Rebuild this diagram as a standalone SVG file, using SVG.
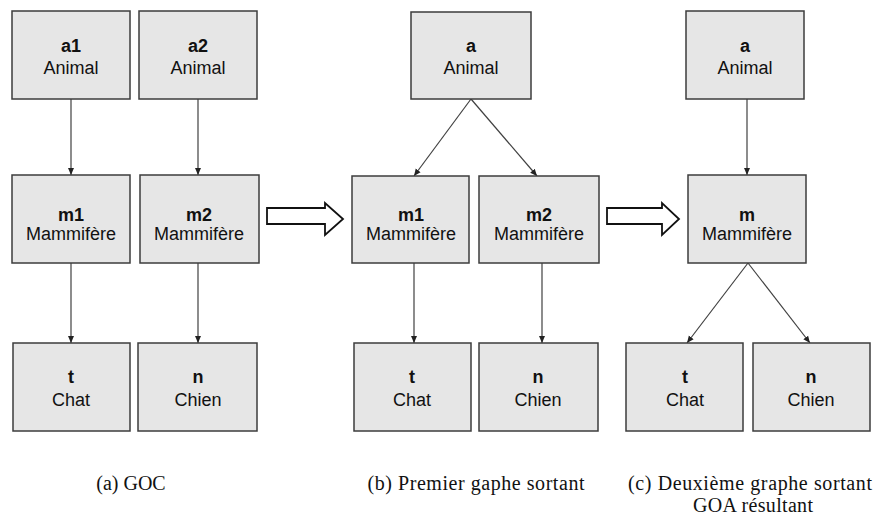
<svg xmlns="http://www.w3.org/2000/svg" width="874" height="519" viewBox="0 0 874 519">
<style>
.box{fill:#e6e6e6;stroke:#3c3c3c;stroke-width:1.5}
.id{font-family:"Liberation Sans",Arial,sans-serif;font-size:18px;font-weight:bold;fill:#111;text-anchor:middle}
.lb{font-family:"Liberation Sans",Arial,sans-serif;font-size:18px;fill:#111;text-anchor:middle}
.cn{stroke:#404040;stroke-width:1.2;fill:none;marker-end:url(#ah)}
.big{fill:#fff;stroke:#111;stroke-width:1.8;stroke-linejoin:miter}
.cap{font-family:"Liberation Serif","Times New Roman",serif;font-size:20px;fill:#111;text-anchor:middle}
</style>
<defs>
<marker id="ah" markerWidth="8" markerHeight="8" refX="7" refY="4" orient="auto" markerUnits="userSpaceOnUse">
<path d="M0,1 L7,4 L0,7 Z" fill="#222"/>
</marker>
</defs>
<rect width="874" height="519" fill="#fff"/>
<g id="connectors">
<line class="cn" x1="71" y1="99" x2="71" y2="175"/>
<line class="cn" x1="198" y1="99" x2="198" y2="175"/>
<line class="cn" x1="71" y1="263" x2="71" y2="343"/>
<line class="cn" x1="198" y1="263" x2="198" y2="343"/>
<line class="cn" x1="471" y1="99" x2="414" y2="176"/>
<line class="cn" x1="471" y1="99" x2="537" y2="176"/>
<line class="cn" x1="414" y1="263" x2="414" y2="343"/>
<line class="cn" x1="542" y1="263" x2="542" y2="343"/>
<line class="cn" x1="747" y1="99" x2="747" y2="175"/>
<line class="cn" x1="748" y1="263" x2="687" y2="343"/>
<line class="cn" x1="748" y1="263" x2="810" y2="343"/>
<path class="big" d="M267,208 L325,208 L325,203 L343,219 L325,235 L325,224 L267,224 Z"/>
<path class="big" d="M607,208 L662,208 L662,203 L679,219 L662,235 L662,224 L607,224 Z"/>
</g>
<g id="a1"><rect class="box" x="12" y="11" width="118" height="88"/><text class="id" x="71" y="52">a1</text><text class="lb" x="71" y="74">Animal</text></g>
<g id="a2"><rect class="box" x="139" y="11" width="118" height="88"/><text class="id" x="198" y="52">a2</text><text class="lb" x="198" y="74">Animal</text></g>
<g id="m1a"><rect class="box" x="12" y="175" width="118" height="88"/><text class="id" x="71" y="221">m1</text><text class="lb" x="71" y="240">Mammifère</text></g>
<g id="m2a"><rect class="box" x="140" y="175" width="119" height="88"/><text class="id" x="199" y="221">m2</text><text class="lb" x="199" y="240">Mammifère</text></g>
<g id="ta"><rect class="box" x="13" y="343" width="117" height="88"/><text class="id" x="71" y="383">t</text><text class="lb" x="71" y="406">Chat</text></g>
<g id="na"><rect class="box" x="138" y="343" width="119" height="88"/><text class="id" x="198" y="383">n</text><text class="lb" x="198" y="406">Chien</text></g>
<g id="ab"><rect class="box" x="411" y="12" width="120" height="87"/><text class="id" x="471" y="52">a</text><text class="lb" x="471" y="74">Animal</text></g>
<g id="m1b"><rect class="box" x="352" y="176" width="117" height="87"/><text class="id" x="411" y="221">m1</text><text class="lb" x="411" y="240">Mammifère</text></g>
<g id="m2b"><rect class="box" x="479" y="176" width="120" height="87"/><text class="id" x="539" y="221">m2</text><text class="lb" x="539" y="240">Mammifère</text></g>
<g id="tb"><rect class="box" x="354" y="343" width="117" height="88"/><text class="id" x="412" y="383">t</text><text class="lb" x="412" y="406">Chat</text></g>
<g id="nb"><rect class="box" x="479" y="343" width="119" height="88"/><text class="id" x="538" y="383">n</text><text class="lb" x="538" y="406">Chien</text></g>
<g id="ac"><rect class="box" x="686" y="11" width="118" height="88"/><text class="id" x="745" y="52">a</text><text class="lb" x="745" y="74">Animal</text></g>
<g id="mc"><rect class="box" x="688" y="175" width="118" height="88"/><text class="id" x="747" y="221">m</text><text class="lb" x="747" y="240">Mammifère</text></g>
<g id="tc"><rect class="box" x="626" y="343" width="117" height="88"/><text class="id" x="685" y="383">t</text><text class="lb" x="685" y="406">Chat</text></g>
<g id="nc"><rect class="box" x="753" y="343" width="117" height="88"/><text class="id" x="811" y="383">n</text><text class="lb" x="811" y="406">Chien</text></g>
<g id="captions">
<text class="cap" x="131" y="490">(a) GOC</text>
<text class="cap" x="476" y="490" textLength="217" lengthAdjust="spacing">(b) Premier gaphe sortant</text>
<text class="cap" x="750" y="490" textLength="244" lengthAdjust="spacing">(c) Deuxième graphe sortant</text>
<text class="cap" x="753" y="512" textLength="120" lengthAdjust="spacing">GOA résultant</text>
</g>
</svg>
